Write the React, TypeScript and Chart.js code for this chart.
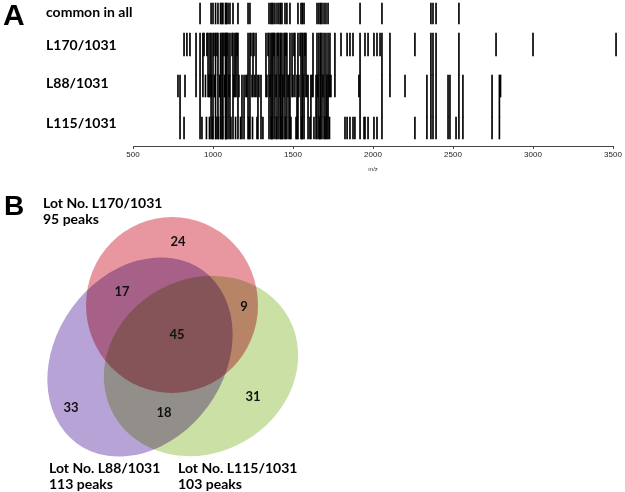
import React, { useEffect, useRef } from "react";
import { Chart, registerables } from "chart.js";
Chart.register(...registerables);

// ---------- Panel A: peak m/z values grouped by Venn region ----------
const commonAll = [919, 988, 1000, 1016, 1031, 1047, 1056, 1062, 1078, 1084, 1094, 1106, 1125, 1156, 1219, 1231, 1350, 1362, 1369, 1375, 1387, 1400, 1412, 1422, 1431, 1450, 1462, 1481, 1531, 1550, 1559, 1569, 1650, 1662, 1672, 1681, 1694, 1706, 1719, 1919, 2056, 2362, 2375, 2394, 2537];
const shared170and88 = [894, 937, 969, 981, 1137, 1144, 1250, 1269, 1331, 1444, 1494, 1512, 1581, 1625, 1731, 1762, 2106];
const shared170and115 = [819, 1838, 1856, 1875, 1950, 1969, 2006, 2025, 2262];
const shared88and115 = [794, 1181, 1194, 1281, 1300, 1437, 1475, 1525, 1594, 1612, 1644, 1712, 2337, 2469, 2481, 2562, 2744, 2790];
const only170 = [837, 856, 944, 962, 1006, 1025, 1069, 1087, 1119, 1150, 1237, 1256, 1344, 1381, 1406, 1456, 1506, 1544, 1575, 1800, 2044, 2769, 3000, 3519];
const only88 = [781, 825, 953, 975, 991, 1009, 1041, 1072, 1100, 1131, 1162, 1206, 1212, 1244, 1262, 1287, 1337, 1356, 1394, 1419, 1469, 1500, 1537, 1562, 1587, 1619, 1656, 1687, 1725, 1737, 1912, 2200, 2797];
const only115 = [931, 959, 978, 997, 1019, 1034, 1059, 1081, 1112, 1141, 1172, 1225, 1247, 1275, 1312, 1366, 1397, 1425, 1453, 1487, 1519, 1556, 1606, 1631, 1666, 1700, 1728, 1825, 1887, 1944, 2519];

const rowLabels = ["common in all", "L170/1031", "L88/1031", "L115/1031"];
const xTickValues = [500, 1000, 1500, 2000, 2500, 3000, 3500];
const xAxisTitle = "m/z";

// ---------- Panel B: Venn diagram ----------
const vennSetNames = ["Lot No. L170/1031", "Lot No. L88/1031", "Lot No. L115/1031"];
const vennSetTotals = [95, 113, 103];
const vennRegionCounts = [24, 17, 9, 45, 33, 18, 31];

// layout geometry (hidden-scale units)
const rowBands = [[3, 24], [33, 56], [75, 97], [117, 139]];
const rowLabelBaselines = [17, 50, 88, 128];
const vennRegionPos = [[178, 62], [122, 112], [244, 127], [177, 155], [71, 228], [164, 233], [253, 217]];
const vennSetLabelPos = [[43, 28], [49, 293], [178, 293]];
const vennEllipses = [
  { cx: 172, cy: 125, rx: 86, ry: 88, rot: 0 },
  { cx: 140, cy: 177, rx: 107, ry: 84, rot: -0.94 },
  { cx: 201, cy: 186, rx: 100, ry: 87, rot: -0.5 },
];
const vennColors = ["#E896A0", "#B8A3D7", "#CBE0A5"];

const LABEL_FONT = "bold 14px Lato, 'Open Sans', sans-serif";

const row170 = [...commonAll, ...shared170and88, ...shared170and115, ...only170];
const row88 = [...commonAll, ...shared170and88, ...shared88and115, ...only88];
const row115 = [...commonAll, ...shared170and115, ...shared88and115, ...only115];
const in88 = new Set(row88);
const in115 = new Set(row115);

function PanelA() {
  const ref = useRef<HTMLCanvasElement>(null);
  useEffect(() => {
    const labelsPlugin = {
      id: "rowLabels",
      afterDraw(chart: any) {
        const ctx = chart.ctx;
        const y = chart.scales.y;
        ctx.save();
        ctx.fillStyle = "#000";
        ctx.textBaseline = "alphabetic";
        ctx.textAlign = "left";
        ctx.font = "bold 30px 'Liberation Sans', Arial, sans-serif";
        ctx.fillText("A", 3, 25);
        ctx.font = LABEL_FONT;
        rowLabels.forEach((t, i) => {
          ctx.fillText(t, 46, y.getPixelForValue(rowLabelBaselines[i]));
        });
        ctx.restore();
      },
    };
    const mk = (vals: number[], band: number[], linkSet: Set<number> | null, nextTop: number) =>
      vals.map((m) => ({ x: m, y: [band[0], linkSet && linkSet.has(m) ? nextTop : band[1]] }));
    const dsBase = { backgroundColor: "#000", borderWidth: 0, barThickness: 1, grouped: false, clip: false };
    const chart = new Chart(ref.current!, {
      type: "bar",
      data: {
        datasets: [
          { ...dsBase, data: mk(commonAll, rowBands[0], null, 0) },
          { ...dsBase, data: mk(row170, rowBands[1], in88, rowBands[2][0]) },
          { ...dsBase, data: mk(row88, rowBands[2], in115, rowBands[3][0]) },
          { ...dsBase, data: mk(row115, rowBands[3], null, 0) },
        ] as any,
      },
      options: {
        responsive: false,
        animation: false,
        events: [],
        layout: { padding: { left: 133, right: 12, top: 0, bottom: 0 } },
        plugins: { legend: { display: false }, tooltip: { enabled: false } },
        scales: {
          x: {
            type: "linear",
            min: 500,
            max: 3500,
            offset: false,
            afterBuildTicks: (s: any) => {
              s.ticks = xTickValues.map((v) => ({ value: v }));
            },
            afterFit: (s: any) => {
              s.height = 34;
            },
            grid: { display: true, drawOnChartArea: false, drawTicks: true, tickLength: 3, color: "#444", offset: false },
            border: { display: true, color: "#444", width: 1 },
            ticks: {
              color: "#222",
              font: { family: "'Liberation Sans', Arial", size: 8 },
              padding: 1,
              maxRotation: 0,
              autoSkip: false,
              callback: (v: any) => String(v),
            },
            title: { display: true, text: xAxisTitle, color: "#333", font: { family: "'Liberation Sans', Arial", size: 6 }, padding: { top: 0, bottom: 7 } },
          },
          y: { type: "linear", min: 0, max: 146, reverse: true, display: false },
        },
      } as any,
      plugins: [labelsPlugin],
    });
    return () => chart.destroy();
  }, []);
  return <canvas ref={ref} width={625} height={180} style={{ position: "absolute", left: 0, top: 0 }} />;
}

function PanelB() {
  const ref = useRef<HTMLCanvasElement>(null);
  useEffect(() => {
    const vennPlugin = {
      id: "venn",
      beforeDatasetsDraw(chart: any) {
        const ctx = chart.ctx;
        const xs = chart.scales.x;
        const ys = chart.scales.y;
        ctx.save();
        ctx.globalCompositeOperation = "multiply";
        vennEllipses.forEach((e, i) => {
          const cx = xs.getPixelForValue(e.cx);
          const cy = ys.getPixelForValue(e.cy);
          const rx = Math.abs(xs.getPixelForValue(e.cx + e.rx) - cx);
          const ry = Math.abs(ys.getPixelForValue(e.cy + e.ry) - cy);
          ctx.beginPath();
          ctx.ellipse(cx, cy, rx, ry, e.rot, 0, Math.PI * 2);
          ctx.fillStyle = vennColors[i];
          ctx.fill();
        });
        ctx.restore();
      },
      afterDatasetsDraw(chart: any) {
        const ctx = chart.ctx;
        const xs = chart.scales.x;
        const ys = chart.scales.y;
        ctx.save();
        ctx.fillStyle = "#111";
        ctx.font = "bold 13px Lato, 'Open Sans', sans-serif";
        ctx.textAlign = "center";
        ctx.textBaseline = "middle";
        const meta = chart.getDatasetMeta(0);
        meta.data.forEach((pt: any, i: number) => {
          ctx.fillText(String(vennRegionCounts[i]), pt.x, pt.y);
        });
        ctx.textAlign = "left";
        ctx.textBaseline = "alphabetic";
        ctx.fillStyle = "#000";
        ctx.font = "bold 28px 'Liberation Sans', Arial, sans-serif";
        ctx.fillText("B", 4, ys.getPixelForValue(35));
        ctx.font = LABEL_FONT;
        vennSetNames.forEach((n, i) => {
          const [lx, ly] = vennSetLabelPos[i];
          ctx.fillText(n, xs.getPixelForValue(lx), ys.getPixelForValue(ly));
          ctx.fillText(vennSetTotals[i] + " peaks", xs.getPixelForValue(lx), ys.getPixelForValue(ly + 16));
        });
        ctx.restore();
      },
    };
    const chart = new Chart(ref.current!, {
      type: "scatter",
      data: {
        datasets: [
          {
            data: vennRegionPos.map((p) => ({ x: p[0], y: p[1] })),
            pointRadius: 0,
            showLine: false,
          },
        ],
      },
      options: {
        responsive: false,
        animation: false,
        events: [],
        layout: { padding: 0 },
        plugins: { legend: { display: false }, tooltip: { enabled: false } },
        scales: {
          x: { type: "linear", min: 0, max: 320, display: false },
          y: { type: "linear", min: 0, max: 312, reverse: true, display: false },
        },
      } as any,
      plugins: [vennPlugin],
    });
    return () => chart.destroy();
  }, []);
  return <canvas ref={ref} width={320} height={312} style={{ position: "absolute", left: 0, top: 180 }} />;
}

export default function App() {
  return (
    <div style={{ position: "fixed", left: 0, top: 0, width: 625, height: 492, background: "#fff", overflow: "hidden" }}>
      <PanelA />
      <PanelB />
    </div>
  );
}
